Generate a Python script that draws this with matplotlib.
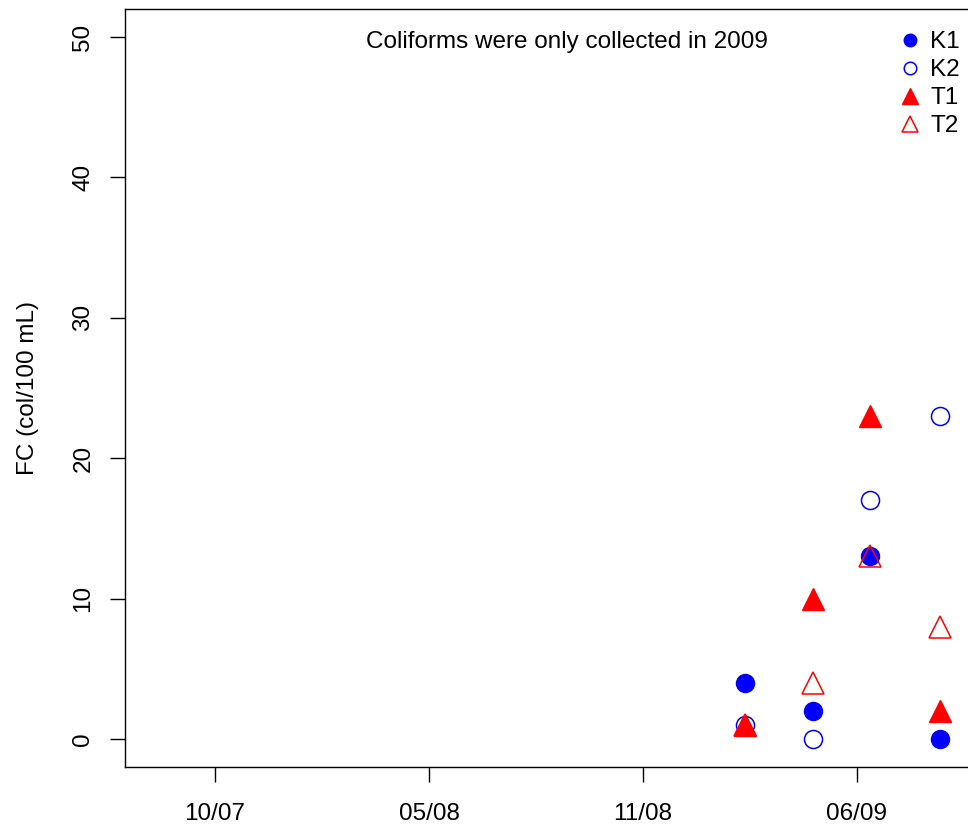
"""
Fecal coliform scatter by site (K1, K2, T1, T2) — only 2009 samples exist.
"""

import numpy as np
import matplotlib
matplotlib.use("Agg")
import matplotlib.pyplot as plt
from matplotlib.lines import Line2D

# ─────────────────────────────────────────────────────────────────────────────
# DATA
# ─────────────────────────────────────────────────────────────────────────────

SAMPLE_DATES = ["2009-02-20", "2009-04-25", "2009-06-17", "2009-08-22"]

K1 = [4, 2, 13, 0]
K2 = [1, 0, 17, 23]
T1 = [1, 10, 23, 2]
T2 = [1, 4, 13, 8]

# tick dates (R's pretty() on day numbers, every 200 days)
TICK_DATES = ["2007-10-14", "2008-05-01", "2008-11-17", "2009-06-05"]
TICK_LABELS = ["10/07", "05/08", "11/08", "06/09"]
Y_TICKS = [0, 10, 20, 30, 40, 50]

NOTE = "Coliforms were only collected in 2009"
YLABEL = "FC (col/100 mL)"

# ─────────────────────────────────────────────────────────────────────────────
# STYLE
# ─────────────────────────────────────────────────────────────────────────────

BLUE = "#0000FF"
RED = "#FF0000"
FONT = ["Liberation Sans", "DejaVu Sans"]
FS = 17.5

plt.rcParams["font.family"] = FONT


def day_num(dates):
    return np.array(dates, dtype="datetime64[D]").astype(float)


def main():
    fig = plt.figure(figsize=(9.68, 8.25), dpi=100)
    W, H = 968, 825
    # axes box in pixels: left 125, right ~975 (right spine off canvas), top 9, bottom 767
    ax = fig.add_axes([125 / W, 58 / H, 850 / W, 758 / H])

    x = day_num(SAMPLE_DATES)
    ticks = day_num(TICK_DATES)

    ax.plot(x, K1, linestyle="none", marker="o", ms=13, mfc=BLUE, mec=BLUE)
    ax.plot(x, K2, linestyle="none", marker="o", ms=13, mfc="none", mec=BLUE, mew=1.1)
    ax.plot(x, T1, linestyle="none", marker="^", ms=16, mfc=RED, mec=RED)
    ax.plot(x, T2, linestyle="none", marker="^", ms=16, mfc="none", mec=RED, mew=1.1)

    ax.set_xlim(ticks[0] - 84.1, ticks[0] + 710.3)
    ax.set_ylim(-2, 52)

    ax.set_xticks(ticks)
    ax.set_xticklabels(TICK_LABELS)
    ax.set_yticks(Y_TICKS)
    ax.set_yticklabels([str(v) for v in Y_TICKS], rotation=90, va="center")

    ax.tick_params(axis="both", direction="out", length=11, width=1.0,
                   labelsize=FS, colors="black")
    ax.tick_params(axis="x", pad=15)
    ax.tick_params(axis="y", pad=11)
    for sp in ax.spines.values():
        sp.set_linewidth(1.0)

    fig.text(28 / W, 1 - 388 / H, YLABEL, rotation=90, ha="center", va="center",
             fontsize=FS)
    fig.text(567 / W, 1 - 48 / H, NOTE, ha="center", va="baseline", fontsize=FS)

    handles = [
        Line2D([], [], linestyle="none", marker="o", ms=9, mfc=BLUE, mec=BLUE),
        Line2D([], [], linestyle="none", marker="o", ms=9, mfc="none", mec=BLUE, mew=1.1),
        Line2D([], [], linestyle="none", marker="^", ms=11, mfc=RED, mec=RED),
        Line2D([], [], linestyle="none", marker="^", ms=11, mfc="none", mec=RED, mew=1.1),
    ]
    fig.legend(handles, ["K1", "K2", "T1", "T2"], loc="upper left",
               bbox_to_anchor=(898 / W, 1 - 31 / H), frameon=False,
               fontsize=FS, handlelength=1.0, handletextpad=0.33,
               labelspacing=0.25, borderpad=0, borderaxespad=0)

    fig.savefig("out.png", dpi=100)
    plt.close(fig)


if __name__ == "__main__":
    main()
